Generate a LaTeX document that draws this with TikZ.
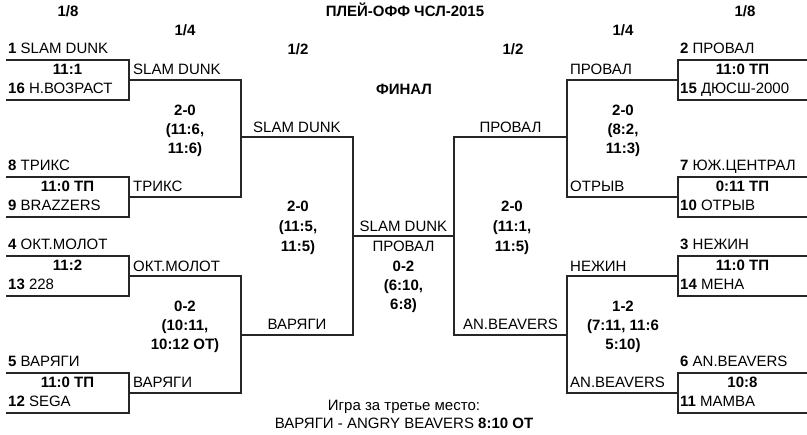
\documentclass[tikz,border=0pt]{standalone}
\usepackage{fontspec}
\setmainfont{Liberation Sans}
\tikzset{
  bline/.style={line width=1.3pt, draw=black!85, line join=miter},
  team/.style={anchor=base west, inner sep=0pt},
  cteam/.style={anchor=base, inner sep=0pt},
  score/.style={anchor=base, inner sep=0pt, font=\fontsize{15}{17}\selectfont\bfseries},
  hdr/.style={anchor=base, inner sep=0pt, font=\fontsize{15}{17}\selectfont\bfseries},
}
\newcommand\LBox[7]{%
  \coordinate (#1tl) at (6,#2); \coordinate (#1tr) at (129,#2);
  \coordinate (#1br) at (129,{#2+40}); \coordinate (#1bl) at (6,{#2+40});
  \coordinate (#1m) at (129,{#2+20});
  \draw[bline] (#1tl) -- (#1tr) -- (#1br) -- (#1bl);
  \node[team] (#1a) at (8,{#2-6}) {\textbf{#3} #4};
  \node[score] (#1s) at (67.5,{#2+15}) {#5};
  \node[team] (#1b) at (8,{#2+34}) {\textbf{#6} #7};
}
\newcommand\RBox[7]{%
  \coordinate (#1tl) at (807,#2); \coordinate (#1tr) at (678,#2);
  \coordinate (#1br) at (678,{#2+40}); \coordinate (#1bl) at (807,{#2+40});
  \coordinate (#1m) at (678,{#2+20});
  \draw[bline] (#1tl) -- (#1tr) -- (#1br) -- (#1bl);
  \node[team] (#1a) at (680,{#2-6}) {\textbf{#3} #4};
  \node[score] (#1s) at (742.5,{#2+15}) {#5};
  \node[team] (#1b) at (680,{#2+34}) {\textbf{#6} #7};
}
\begin{document}
\begin{tikzpicture}[x=1pt,y=-1pt,font=\fontsize{15}{17}\selectfont]
\useasboundingbox (0,0) rectangle (807,435);
% headers
\node[hdr] (title) at (405,17) {ПЛЕЙ-ОФФ ЧСЛ-2015};
\node[hdr] (h8l) at (68,17) {1/8};
\node[hdr] (h8r) at (745,17) {1/8};
\node[hdr] (h4l) at (185,36) {1/4};
\node[hdr] (h4r) at (623,36) {1/4};
\node[hdr] (h2l) at (298,55) {1/2};
\node[hdr] (h2r) at (513,55) {1/2};
\node[hdr] (fin) at (404,95) {ФИНАЛ};
% 1/8 boxes
\LBox{A}{60}{1}{SLAM DUNK}{11:1}{16}{Н.ВОЗРАСТ}
\LBox{B}{177}{8}{ТРИКС}{11:0 ТП}{9}{BRAZZERS}
\LBox{C}{256}{4}{ОКТ.МОЛОТ}{11:2}{13}{228}
\LBox{D}{373}{5}{ВАРЯГИ}{11:0 ТП}{12}{SEGA}
\RBox{E}{60}{2}{ПРОВАЛ}{11:0 ТП}{15}{ДЮСШ-2000}
\RBox{F}{177}{7}{ЮЖ.ЦЕНТРАЛ}{0:11 ТП}{10}{ОТРЫВ}
\RBox{G}{256}{3}{НЕЖИН}{11:0 ТП}{14}{МЕНА}
\RBox{H}{373}{6}{AN.BEAVERS}{10:8}{11}{MAMBA}
% 1/4 left
\coordinate (qAB1) at (241,80); \coordinate (qAB2) at (241,197); \coordinate (qABm) at (241,137);
\coordinate (qCD1) at (241,276); \coordinate (qCD2) at (241,393); \coordinate (qCDm) at (241,335);
\draw[bline] (Am) -- (qAB1) -- (qAB2) -- (Bm);
\draw[bline] (Cm) -- (qCD1) -- (qCD2) -- (Dm);
\node[team] (lqA) at (133,75) {SLAM DUNK};
\node[team] (lqB) at (133,192) {ТРИКС};
\node[team] (lqC) at (133,272) {ОКТ.МОЛОТ};
\node[team] (lqD) at (133,388) {ВАРЯГИ};
\node[score] (sAB1) at (185,116) {2-0};
\node[score] (sAB2) at (185,135) {(11:6,};
\node[score] (sAB3) at (185,154) {11:6)};
\node[score] (sCD1) at (185,312) {0-2};
\node[score] (sCD2) at (185,331) {(10:11,};
\node[score] (sCD3) at (185,350) {10:12 ОТ)};
% 1/4 right
\coordinate (qEF1) at (567,80); \coordinate (qEF2) at (567,197); \coordinate (qEFm) at (567,137);
\coordinate (qGH1) at (567,276); \coordinate (qGH2) at (567,393); \coordinate (qGHm) at (567,335);
\draw[bline] (Em) -- (qEF1) -- (qEF2) -- (Fm);
\draw[bline] (Gm) -- (qGH1) -- (qGH2) -- (Hm);
\node[team] (rqE) at (570,75) {ПРОВАЛ};
\node[team] (rqF) at (570,192) {ОТРЫВ};
\node[team] (rqG) at (570,272) {НЕЖИН};
\node[team] (rqH) at (570,388) {AN.BEAVERS};
\node[score] (sEF1) at (623,116) {2-0};
\node[score] (sEF2) at (623,135) {(8:2,};
\node[score] (sEF3) at (623,154) {11:3)};
\node[score] (sGH1) at (623,312) {1-2};
\node[score] (sGH2) at (623,331) {(7:11, 11:6};
\node[score] (sGH3) at (623,350) {5:10)};
% 1/2
\coordinate (sfL1) at (353,137); \coordinate (sfL2) at (353,335);
\coordinate (sfR1) at (454,137); \coordinate (sfR2) at (454,335);
\coordinate (fL) at (353,236); \coordinate (fR) at (454,236);
\draw[bline] (qABm) -- (sfL1) -- (sfL2) -- (qCDm);
\draw[bline] (qEFm) -- (sfR1) -- (sfR2) -- (qGHm);
\draw[bline] (fL) -- (fR);
\node[cteam] (hlA) at (297,133) {SLAM DUNK};
\node[cteam] (hlB) at (297,330) {ВАРЯГИ};
\node[cteam] (hrA) at (510.5,133) {ПРОВАЛ};
\node[cteam] (hrB) at (510.5,330) {AN.BEAVERS};
\node[score] (sl1) at (298,212) {2-0};
\node[score] (sl2) at (298,232) {(11:5,};
\node[score] (sl3) at (298,252) {11:5)};
\node[score] (sr1) at (512,212) {2-0};
\node[score] (sr2) at (512,232) {(11:1,};
\node[score] (sr3) at (512,252) {11:5)};
% final
\node[cteam] (fA) at (403.5,232) {SLAM DUNK};
\node[cteam] (fB) at (403.5,252) {ПРОВАЛ};
\node[score] (fs1) at (403.5,272) {0-2};
\node[score] (fs2) at (403.5,291) {(6:10,};
\node[score] (fs3) at (403.5,310) {6:8)};
% third place
\node[cteam] (t1) at (404,411) {Игра за третье место:};
\node[cteam] (t2) at (404,429) {ВАРЯГИ - ANGRY BEAVERS \textbf{8:10 ОТ}};
\end{tikzpicture}
\end{document}
